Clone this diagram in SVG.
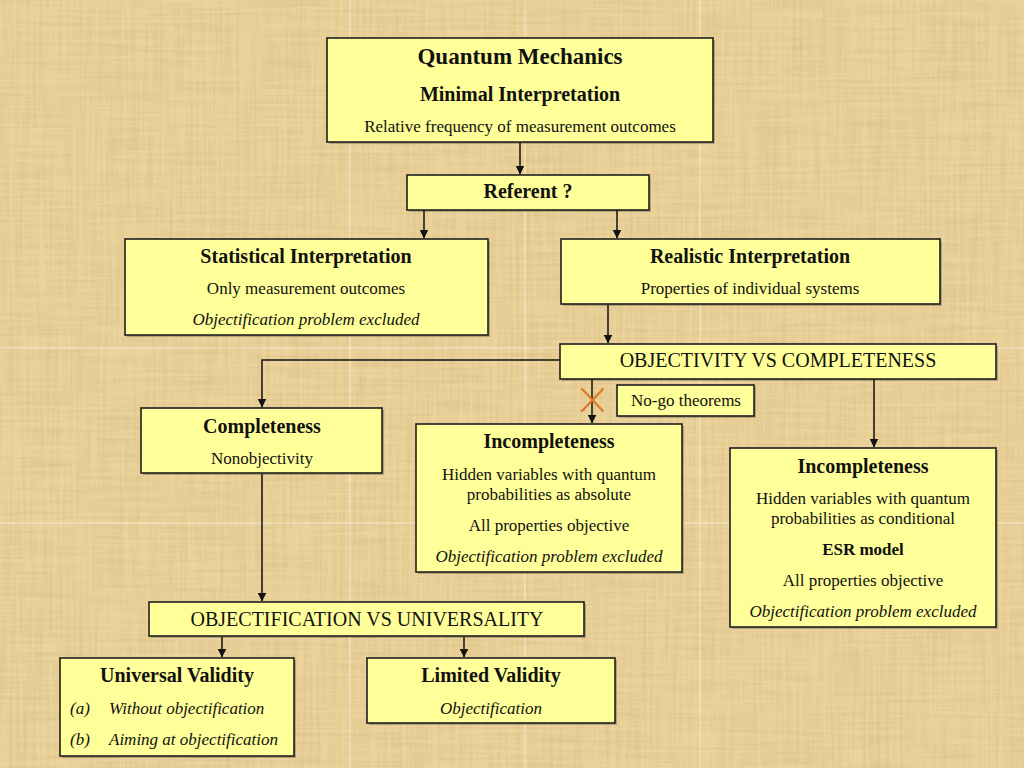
<svg xmlns="http://www.w3.org/2000/svg" width="1024" height="768" viewBox="0 0 1024 768">
<defs>
<style>
.box{fill:#FFFF99;stroke:#1e1e1e;stroke-width:1.6}
.sh{fill:#000;opacity:0.22}
.t{font-family:"Liberation Serif","Times New Roman",serif;fill:#111;text-anchor:middle}
.h1{font-size:23px;font-weight:bold}
.h2{font-size:20px;font-weight:bold}
.b{font-size:17px}
.bb{font-size:17px;font-weight:bold}
.ban{font-size:20px}
.i{font-style:italic}
.con{fill:none;stroke:#111;stroke-width:1.5}
.seam{stroke:#fff;stroke-width:1;opacity:0.55}
</style>
<marker id="ah" markerWidth="9" markerHeight="10" refX="8.5" refY="4.5" orient="auto" markerUnits="userSpaceOnUse">
<path d="M0,0 L9,4.5 L0,9 Z" fill="#111"/>
</marker>
<filter id="paper" x="0" y="0" width="100%" height="100%">
<feTurbulence type="fractalNoise" baseFrequency="0.012 0.3" numOctaves="3" seed="4" result="h"/>
<feTurbulence type="fractalNoise" baseFrequency="0.3 0.01" numOctaves="3" seed="9" result="v"/>
<feComposite in="h" in2="v" operator="arithmetic" k2="0.5" k3="0.5" result="m"/>
<feColorMatrix in="m" type="matrix" values="0 0 0 0 0.62  0 0 0 0 0.47  0 0 0 0 0.2  1.6 0 0 0 -0.62"/>
</filter>
</defs>

<g id="background">
<rect x="0" y="0" width="1024" height="768" fill="#EBD39B"/>
<rect x="0" y="0" width="1024" height="768" fill="#fff" filter="url(#paper)" opacity="0.8"/>
<line class="seam" x1="350" y1="0" x2="350" y2="768"/>
<line class="seam" x1="525" y1="0" x2="525" y2="768"/>
<line class="seam" x1="700" y1="0" x2="700" y2="768"/>
<line class="seam" x1="0" y1="348" x2="1024" y2="348"/>
<line class="seam" x1="0" y1="523" x2="1024" y2="523"/>
</g>

<g id="connectors">
<line class="con" x1="520" y1="143" x2="520" y2="174" marker-end="url(#ah)"/>
<line class="con" x1="424" y1="210" x2="424" y2="238" marker-end="url(#ah)"/>
<line class="con" x1="617" y1="210" x2="617" y2="238" marker-end="url(#ah)"/>
<line class="con" x1="608" y1="305" x2="608" y2="343" marker-end="url(#ah)"/>
<polyline class="con" points="560,360 262,360 262,407" marker-end="url(#ah)"/>
<line class="con" x1="592" y1="379" x2="592" y2="423" marker-end="url(#ah)"/>
<line class="con" x1="874" y1="379" x2="874" y2="447" marker-end="url(#ah)"/>
<line class="con" x1="262" y1="474" x2="262" y2="601" marker-end="url(#ah)"/>
<line class="con" x1="222" y1="637" x2="222" y2="657" marker-end="url(#ah)"/>
<line class="con" x1="464" y1="637" x2="464" y2="657" marker-end="url(#ah)"/>
<g id="cross" stroke="#E0782E" stroke-width="2.4" stroke-linecap="round">
<line x1="582" y1="389" x2="603" y2="411"/>
<line x1="603" y1="389" x2="582" y2="411"/>
</g>
</g>

<g id="qm">
<rect class="sh" x="329" y="40" width="386" height="104"/>
<rect class="box" x="327" y="38" width="386" height="104"/>
<text class="t h1" x="520" y="64">Quantum Mechanics</text>
<text class="t h2" x="520" y="101">Minimal Interpretation</text>
<text class="t b" x="520" y="132">Relative frequency of measurement outcomes</text>
</g>

<g id="referent">
<rect class="sh" x="409" y="177" width="242" height="35"/>
<rect class="box" x="407" y="175" width="242" height="35"/>
<text class="t h2" x="528" y="198">Referent ?</text>
</g>

<g id="statistical">
<rect class="sh" x="127" y="241" width="363" height="96"/>
<rect class="box" x="125" y="239" width="363" height="96"/>
<text class="t h2" x="306" y="263">Statistical Interpretation</text>
<text class="t b" x="306" y="294">Only measurement outcomes</text>
<text class="t b i" x="306" y="325">Objectification problem excluded</text>
</g>

<g id="realistic">
<rect class="sh" x="563" y="241" width="379" height="65"/>
<rect class="box" x="561" y="239" width="379" height="65"/>
<text class="t h2" x="750" y="263">Realistic Interpretation</text>
<text class="t b" x="750" y="294">Properties of individual systems</text>
</g>

<g id="objectivity">
<rect class="sh" x="562" y="346" width="436" height="35"/>
<rect class="box" x="560" y="344" width="436" height="35"/>
<text class="t ban" x="778" y="367">OBJECTIVITY VS COMPLETENESS</text>
</g>

<g id="nogo">
<rect class="sh" x="619" y="387" width="137" height="31"/>
<rect class="box" x="617" y="385" width="137" height="31"/>
<text class="t b" x="686" y="406">No-go theorems</text>
</g>

<g id="completeness">
<rect class="sh" x="143" y="410" width="241" height="65"/>
<rect class="box" x="141" y="408" width="241" height="65"/>
<text class="t h2" x="262" y="433">Completeness</text>
<text class="t b" x="262" y="464">Nonobjectivity</text>
</g>

<g id="incompleteness-absolute">
<rect class="sh" x="418" y="426" width="266" height="148"/>
<rect class="box" x="416" y="424" width="266" height="148"/>
<text class="t h2" x="549" y="448">Incompleteness</text>
<text class="t b" x="549" y="480">Hidden variables with quantum</text>
<text class="t b" x="549" y="500">probabilities as absolute</text>
<text class="t b" x="549" y="531">All properties objective</text>
<text class="t b i" x="549" y="562">Objectification problem excluded</text>
</g>

<g id="incompleteness-conditional">
<rect class="sh" x="732" y="450" width="266" height="179"/>
<rect class="box" x="730" y="448" width="266" height="179"/>
<text class="t h2" x="863" y="473">Incompleteness</text>
<text class="t b" x="863" y="504">Hidden variables with quantum</text>
<text class="t b" x="863" y="524">probabilities as conditional</text>
<text class="t bb" x="863" y="555">ESR model</text>
<text class="t b" x="863" y="586">All properties objective</text>
<text class="t b i" x="863" y="617">Objectification problem excluded</text>
</g>

<g id="objectification">
<rect class="sh" x="151" y="604" width="435" height="34"/>
<rect class="box" x="149" y="602" width="435" height="34"/>
<text class="t ban" x="367" y="626">OBJECTIFICATION VS UNIVERSALITY</text>
</g>

<g id="universal">
<rect class="sh" x="62" y="660" width="234" height="98"/>
<rect class="box" x="60" y="658" width="234" height="98"/>
<text class="t h2" x="177" y="682">Universal Validity</text>
<text class="t b i" x="70" y="714" text-anchor="start" style="text-anchor:start">(a)</text>
<text class="t b i" x="109" y="714" style="text-anchor:start">Without objectification</text>
<text class="t b i" x="70" y="745" style="text-anchor:start">(b)</text>
<text class="t b i" x="109" y="745" style="text-anchor:start">Aiming at objectification</text>
</g>

<g id="limited">
<rect class="sh" x="369" y="660" width="248" height="65"/>
<rect class="box" x="367" y="658" width="248" height="65"/>
<text class="t h2" x="491" y="682">Limited Validity</text>
<text class="t b i" x="491" y="714">Objectification</text>
</g>
</svg>
